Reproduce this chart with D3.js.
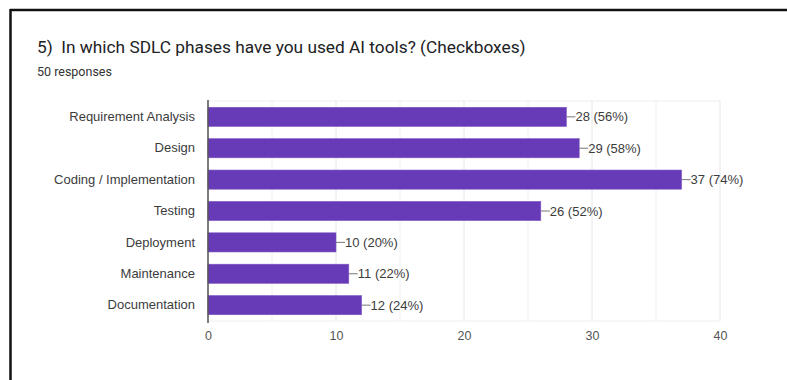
<!DOCTYPE html>
<html>
<head>
<meta charset="utf-8">
<script src="https://cdn.jsdelivr.net/npm/d3@7"></script>
<style>
  body { margin: 0; background: #fff; }
  svg { display: block; font-family: "Liberation Sans", Arial, sans-serif; }
</style>
</head>
<body>
<div id="chart"></div>
<script>
// survey answers
const phases = ["Requirement Analysis", "Design", "Coding / Implementation", "Testing",
                "Deployment", "Maintenance", "Documentation"];
const counts = [28, 29, 37, 26, 10, 11, 12];
const totalResponses = 50;
const xTicks = [0, 10, 20, 30, 40];
const gridTicks = [0, 5, 10, 15, 20, 25, 30, 35, 40];

const width = 787, height = 380;
const margin = { top: 101, right: 67, bottom: 60, left: 208 };

const svg = d3.select("#chart").append("svg")
    .attr("width", width)
    .attr("height", height);

// black frame of the screenshot (only top and left show)
svg.append("line").attr("x1", 10).attr("x2", width).attr("y1", 10).attr("y2", 10)
    .attr("stroke", "#111").attr("stroke-width", 2.5);
svg.append("line").attr("x1", 10.5).attr("x2", 10.5).attr("y1", 9).attr("y2", height)
    .attr("stroke", "#111").attr("stroke-width", 2.5);

svg.append("text")
    .attr("x", 37).attr("y", 53)
    .attr("font-size", 17.3).attr("fill", "#202124")
    .style("font-family", "Roboto, Arial, sans-serif")
    .text("5)\u00a0 In which SDLC phases have you used AI tools? (Checkboxes)");
svg.append("text")
    .attr("x", 37).attr("y", 76)
    .attr("font-size", 12.5).attr("fill", "#333")
    .style("font-family", "Roboto, Arial, sans-serif")
    .text(totalResponses + " responses");

const x = d3.scaleLinear().domain([0, 40]).range([margin.left, width - margin.right]);
const y = d3.scaleBand().domain(phases)
    .range([margin.top, height - margin.bottom + 1])
    .paddingInner(0.39).paddingOuter(0.2);

// grid
svg.append("g").selectAll("line")
    .data(gridTicks)
  .join("line")
    .attr("x1", d => x(d)).attr("x2", d => x(d))
    .attr("y1", margin.top).attr("y2", height - margin.bottom + 1)
    .attr("stroke", d => d % 10 === 0 ? "#e6e6e6" : "#f0f0f0");
svg.append("line")
    .attr("x1", x(0)).attr("x2", x(40))
    .attr("y1", margin.top).attr("y2", margin.top)
    .attr("stroke", "#eeeeee");
svg.append("line")
    .attr("x1", x(0)).attr("x2", x(40))
    .attr("y1", height - margin.bottom + 1).attr("y2", height - margin.bottom + 1)
    .attr("stroke", "#eeeeee");

// bars
svg.append("g").selectAll("rect")
    .data(counts)
  .join("rect")
    .attr("x", x(0))
    .attr("y", (d, i) => y(phases[i]))
    .attr("width", d => x(d) - x(0))
    .attr("height", y.bandwidth())
    .attr("fill", "#673ab7")
    .attr("stroke", "#7e57c2").attr("stroke-width", 0.6);

// value labels with leader line
const lab = svg.append("g").selectAll("g")
    .data(counts)
  .join("g")
    .attr("transform", (d, i) => `translate(${x(d)},${y(phases[i]) + y.bandwidth() / 2})`);
lab.append("line").attr("x1", 0).attr("x2", 9).attr("stroke", "#777");
lab.append("text")
    .attr("x", 9).attr("dy", "0.35em")
    .attr("font-size", 13).attr("fill", "#3c3c3c")
    .text(d => `${d} (${Math.round(d / totalResponses * 100)}%)`);

// category axis
const yAxis = svg.append("g")
    .attr("transform", `translate(${x(0)},0)`)
    .call(d3.axisLeft(y).tickSize(0).tickPadding(13));
yAxis.select(".domain").remove();
yAxis.selectAll("text").attr("font-size", 13).attr("fill", "#3c3c3c")
    .style("font-family", "'Liberation Sans', Arial, sans-serif");
svg.append("line")
    .attr("x1", x(0)).attr("x2", x(0))
    .attr("y1", margin.top - 1).attr("y2", height - margin.bottom + 3)
    .attr("stroke", "#555").attr("stroke-width", 1.5);

// value axis
const xAxis = svg.append("g")
    .attr("transform", `translate(0,${height - margin.bottom})`)
    .call(d3.axisBottom(x).tickValues(xTicks).tickSize(0).tickPadding(11));
xAxis.select(".domain").remove();
xAxis.selectAll("text").attr("font-size", 12.5).attr("fill", "#555")
    .style("font-family", "'Liberation Sans', Arial, sans-serif");
</script>
</body>
</html>
